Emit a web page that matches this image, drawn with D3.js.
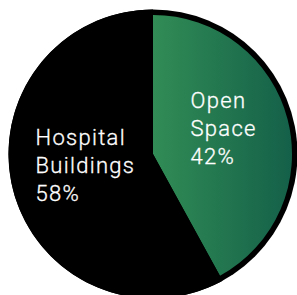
<!DOCTYPE html>
<html><head><meta charset="utf-8">
<script src="https://cdn.jsdelivr.net/npm/d3@7"></script>
<style>html,body{margin:0;padding:0;background:#fff;overflow:hidden}</style>
</head><body>
<svg id="chart" width="297" height="295"></svg>
<script>
const categories = ["Open Space", "Hospital Buildings"];
const values = [42, 58];
const labelLines = [["Open", "Space", "42%"], ["Hospital", "Buildings", "58%"]];

const svg = d3.select("#chart");
const cx = 153, cy = 154, R = 144.5, Rin = 139;
const g = svg.append("g").attr("transform", `translate(${cx},${cy})`);

const defs = svg.append("defs");
const grad = defs.append("linearGradient").attr("id", "gg")
  .attr("gradientUnits", "userSpaceOnUse")
  .attr("x1", 0).attr("y1", 0).attr("x2", Rin).attr("y2", 0);
grad.append("stop").attr("offset", "0%").attr("stop-color", "#318c55");
grad.append("stop").attr("offset", "100%").attr("stop-color", "#146049");

const pie = d3.pie().sort(null).value(d => d)(values);

g.append("circle").attr("r", R).attr("fill", "#000");

const arcOpen = d3.arc().innerRadius(0).outerRadius(Rin);
const arcHosp = d3.arc().innerRadius(0).outerRadius(R);

g.selectAll("path.slice").data(pie).join("path")
  .attr("class", "slice")
  .attr("d", (d, i) => i === 0 ? arcOpen(d) : arcHosp(d))
  .attr("fill", (d, i) => i === 0 ? "url(#gg)" : "#000");

const fontSize = 22, lh = 28;
const labelPos = [[37.5, -45.7], [-117.5, -9]];
labelLines.forEach((lines, i) => {
  const t = g.append("text")
    .attr("x", labelPos[i][0]).attr("y", labelPos[i][1])
    .attr("fill", "#fff")
    .attr("stroke", "#fff")
    .attr("stroke-width", 0.3)
    .attr("font-family", "Roboto, 'Noto Sans', sans-serif")
    .attr("font-weight", 300)
    .attr("font-size", fontSize)
    .attr("letter-spacing", "1.3px");
  lines.forEach((l, k) => {
    t.append("tspan").attr("x", labelPos[i][0]).attr("dy", k === 0 ? 0 : lh).text(l);
  });
});
</script>
</body></html>
